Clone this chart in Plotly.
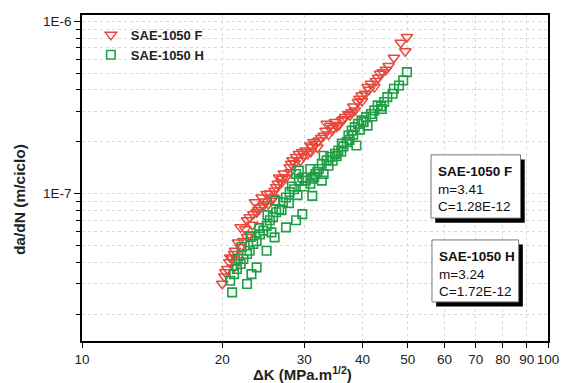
import plotly.graph_objects as go

# ---------------- data ----------------
dk_f = [49.8, 48.3, 49.4, 46.7, 44.9, 44.2, 43.6, 42.7, 41.7, 41.0, 39.8, 39.4, 39.1, 37.9, 37.3,
        36.7, 36.1, 34.9, 34.1, 33.5, 33.3, 33.0, 32.2, 31.4, 30.9, 30.2, 29.7, 29.2, 28.8, 28.3,
        28.1, 27.9, 27.4, 26.8, 26.3, 26.1, 25.7, 25.5, 25.1, 24.5, 24.1, 23.7, 23.3, 22.9, 22.6,
        22.9, 22.6, 22.2, 21.9, 21.3, 21.2, 20.8, 20.7, 20.5, 20.3, 20.2, 20.0, 21.5, 23.5, 24.3,
        26.5, 31.2, 34.4, 38.5, 42.4, 21.9, 21.2, 24.9, 27.1, 28.6, 29.9, 32.6, 35.6, 23.2, 21.6, 25.3,
        30.5, 31.0, 31.8, 32.0, 33.8, 34.6, 35.2, 36.4, 37.6, 38.2, 39.9, 40.5, 41.3, 43.2, 45.5,
        29.4, 28.0, 26.9, 25.9, 24.7, 23.9, 22.4, 21.0]
dadn_f = [8.1e-7, 7.5e-7, 6.7e-7, 6.15e-7, 5.24e-7, 5.07e-7, 4.96e-7, 4.5e-7, 4.34e-7, 4.15e-7,
          3.71e-7, 3.55e-7, 3.4e-7, 2.97e-7, 2.9e-7, 2.78e-7, 2.66e-7, 2.6e-7, 2.48e-7, 2.54e-7,
          2.32e-7, 2.17e-7, 2.03e-7, 1.99e-7, 1.9e-7, 1.78e-7, 1.74e-7, 1.7e-7, 1.63e-7, 1.56e-7,
          1.49e-7, 1.42e-7, 1.24e-7, 1.16e-7, 1.14e-7, 1.09e-7, 9.5e-8, 9.1e-8, 8.7e-8, 8.5e-8,
          8.3e-8, 7.8e-8, 7.6e-8, 7.3e-8, 7.0e-8, 5.8e-8, 5.6e-8, 5.3e-8, 4.9e-8, 4.66e-8,
          4.46e-8, 4.26e-8, 4.0e-8, 3.65e-8, 3.5e-8, 3.3e-8, 3.0e-8, 4.1e-8, 8.9e-8, 9.5e-8,
          1.24e-7, 1.86e-7, 2.32e-7, 3.04e-7, 4.15e-7, 6.37e-8, 3.73e-8, 9.95e-8, 1.31e-7, 1.5e-7,
          1.65e-7, 2.1e-7, 2.5e-7, 6.6e-8, 5.2e-8, 1.0e-7,
          1.7e-7, 1.75e-7, 1.95e-7, 1.85e-7, 2.2e-7, 2.4e-7, 2.45e-7, 2.7e-7, 2.85e-7, 3.2e-7,
          3.45e-7, 3.8e-7, 4.0e-7, 4.7e-7, 5.5e-7, 1.55e-7, 1.33e-7, 1.22e-7, 1.04e-7, 9.0e-8,
          8.0e-8, 6.2e-8, 4.2e-8]

dk_h = [49.8, 48.9, 47.9, 46.7, 46.4, 45.2, 44.5, 43.8, 43.1, 42.4, 41.7, 40.7, 41.0, 39.8, 39.1,
        38.5, 37.9, 37.3, 37.0, 36.4, 38.8, 35.5, 34.9, 34.1, 33.5, 32.7, 32.2, 31.7, 31.2, 30.9,
        30.2, 29.7, 29.2, 28.5, 27.9, 27.4, 27.0, 26.5, 26.1, 25.7, 25.3, 24.9, 24.5, 24.1, 23.7,
        23.3, 22.9, 22.6, 22.2, 21.9, 21.5, 21.2, 20.8, 21.0, 22.6, 23.1, 23.7, 24.9, 29.7, 28.8,
        27.4, 25.9, 25.5, 31.2, 32.7, 33.0, 36.1, 30.9, 29.2, 28.8,
        31.5, 32.0, 33.8, 34.5, 35.2, 36.0, 37.5, 38.2, 39.5, 40.2, 42.0, 44.0, 30.0, 28.2, 27.8,
        26.8, 25.0, 24.0, 23.0, 22.0, 21.6, 26.0, 29.0, 33.0]
dadn_h = [5.07e-7, 4.54e-7, 4.24e-7, 4.06e-7, 3.8e-7, 3.63e-7, 3.4e-7, 3.21e-7, 3.25e-7, 3.04e-7,
          2.9e-7, 2.78e-7, 2.48e-7, 2.66e-7, 2.54e-7, 2.43e-7, 2.32e-7, 2.17e-7, 1.99e-7, 1.88e-7,
          1.9e-7, 1.78e-7, 1.7e-7, 1.63e-7, 1.56e-7, 1.49e-7, 1.39e-7, 1.3e-7, 1.22e-7, 1.14e-7,
          1.19e-7, 1.24e-7, 1.19e-7, 1.06e-7, 1.02e-7, 9.5e-8, 8.9e-8, 8.1e-8, 7.8e-8, 7.3e-8,
          7.0e-8, 6.5e-8, 6.1e-8, 5.8e-8, 5.3e-8, 5.1e-8, 4.66e-8, 4.46e-8, 4.17e-8, 3.9e-8,
          3.65e-8, 3.41e-8, 3.12e-8, 2.67e-8, 2.99e-8, 3.41e-8, 3.73e-8, 4.66e-8, 7.6e-8, 7.0e-8,
          6.37e-8, 5.57e-8, 5.96e-8, 9.7e-8, 1.19e-7, 1.66e-7, 1.95e-7, 1.39e-7, 1.36e-7, 1.3e-7,
          1.25e-7, 1.34e-7, 1.45e-7, 1.55e-7, 1.65e-7, 1.75e-7, 2.05e-7, 2.2e-7, 2.35e-7, 2.6e-7,
          2.8e-7, 3.1e-7, 1.1e-7, 1.1e-7, 8.8e-8, 8.0e-8, 7.5e-8, 6.3e-8, 5.6e-8, 4.9e-8,
          4.2e-8, 9.1e-8, 9.8e-8, 1.3e-7]

x_ticks = [10, 20, 30, 40, 50, 60, 70, 80, 90, 100]
x_ticktext = ["10", "20", "30", "40", "50", "60", "70", "80", "90", "100"]
y_ticks = [1e-7, 1e-6]
y_ticktext = ["1E-7", "1E-6"]
y_minor = [2e-8, 3e-8, 4e-8, 5e-8, 6e-8, 7e-8, 8e-8, 9e-8,
           2e-7, 3e-7, 4e-7, 5e-7, 6e-7, 7e-7, 8e-7, 9e-7]

x_title = "<b>ΔK (MPa.m<sup>1/2</sup>)</b>"
y_title = "<b>da/dN (m/ciclo)</b>"
box_f = ["SAE-1050 F", "m=3.41", "C=1.28E-12"]
box_h = ["SAE-1050 H", "m=3.24", "C=1.72E-12"]

RED = "#e8473b"
GREEN = "#1f9e45"
FONT = "Liberation Sans, Arial, Helvetica, sans-serif"

fig = go.Figure()
fig.add_trace(go.Scatter(
    x=dk_f, y=dadn_f, mode="markers", name="<b>SAE-1050 F</b>",
    marker=dict(symbol="triangle-down-open", size=10, color=RED, line=dict(width=1.5, color=RED)),
))
fig.add_trace(go.Scatter(
    x=dk_h, y=dadn_h, mode="markers", name="<b>SAE-1050 H</b>",
    marker=dict(symbol="square-open", size=8.5, color=GREEN, line=dict(width=1.6, color=GREEN)),
))

grid = dict(showgrid=True, gridcolor="#d9d9d9", griddash="dot", gridwidth=1)

fig.update_xaxes(
    type="log", range=[1, 2], tickmode="array", tickvals=x_ticks, ticktext=x_ticktext,
    ticks="outside", ticklen=5, tickwidth=1.3, tickcolor="black",
    showline=True, linecolor="black", linewidth=1.5, mirror=True,
    zeroline=False, tickfont=dict(size=13.5, color="#222"),
    **grid,
)
fig.update_yaxes(
    type="log", range=[-7.8555, -5.9634], tickmode="array", tickvals=y_ticks, ticktext=y_ticktext,
    ticks="outside", ticklen=6, tickwidth=1.3, tickcolor="black",
    showline=True, linecolor="black", linewidth=1.5, mirror=True,
    zeroline=False, tickfont=dict(size=13.5, color="#222"),
    minor=dict(tickmode="array", tickvals=y_minor, ticks="outside", ticklen=4, tickwidth=1.2,
               tickcolor="black", showgrid=True, gridcolor="#d9d9d9", griddash="dot", gridwidth=1),
    **grid,
)

# axis titles as annotations (precise placement)
fig.add_annotation(xref="paper", yref="paper", x=0.474, y=-0.101, xanchor="center", yanchor="middle",
                   showarrow=False, text=x_title, font=dict(size=15, color="#222", family=FONT))
fig.add_annotation(xref="paper", yref="paper", x=-0.135, y=0.4325, xanchor="center", yanchor="middle",
                   showarrow=False, textangle=-90, text=y_title, font=dict(size=15.5, color="#222", family=FONT))

# annotation boxes with drop shadow
def add_box(x0, x1, y0, y1, lines, ytop):
    dx, dy = 0.009, 0.014
    fig.add_shape(type="rect", xref="paper", yref="paper", x0=x0 + dx, x1=x1 + dx, y0=y0 - dy, y1=y1 - dy,
                  fillcolor="black", line=dict(width=0), layer="above")
    fig.add_shape(type="rect", xref="paper", yref="paper", x0=x0, x1=x1, y0=y0, y1=y1,
                  fillcolor="white", line=dict(color="#777", width=1), layer="above")
    fig.add_annotation(xref="paper", yref="paper", x=x0 + 0.010, y=ytop, xanchor="left", yanchor="top",
                       align="left", showarrow=False,
                       text="<b>%s</b><br>%s<br>%s" % tuple(lines),
                       font=dict(size=13.5, color="#111", family=FONT))

add_box(0.749, 0.941, 0.377, 0.571, box_f, 0.550)
add_box(0.751, 0.937, 0.120, 0.310, box_h, 0.289)

fig.update_layout(
    width=571, height=383,
    margin=dict(l=82, r=14, t=15, b=42),
    paper_bgcolor="white", plot_bgcolor="white",
    font=dict(family=FONT, color="#222"),
    showlegend=True,
    legend=dict(x=0.019, y=0.985, xanchor="left", yanchor="top", bgcolor="rgba(0,0,0,0)",
                font=dict(size=13, color="#222"), tracegroupgap=0),
)

fig.write_html("out.html")
